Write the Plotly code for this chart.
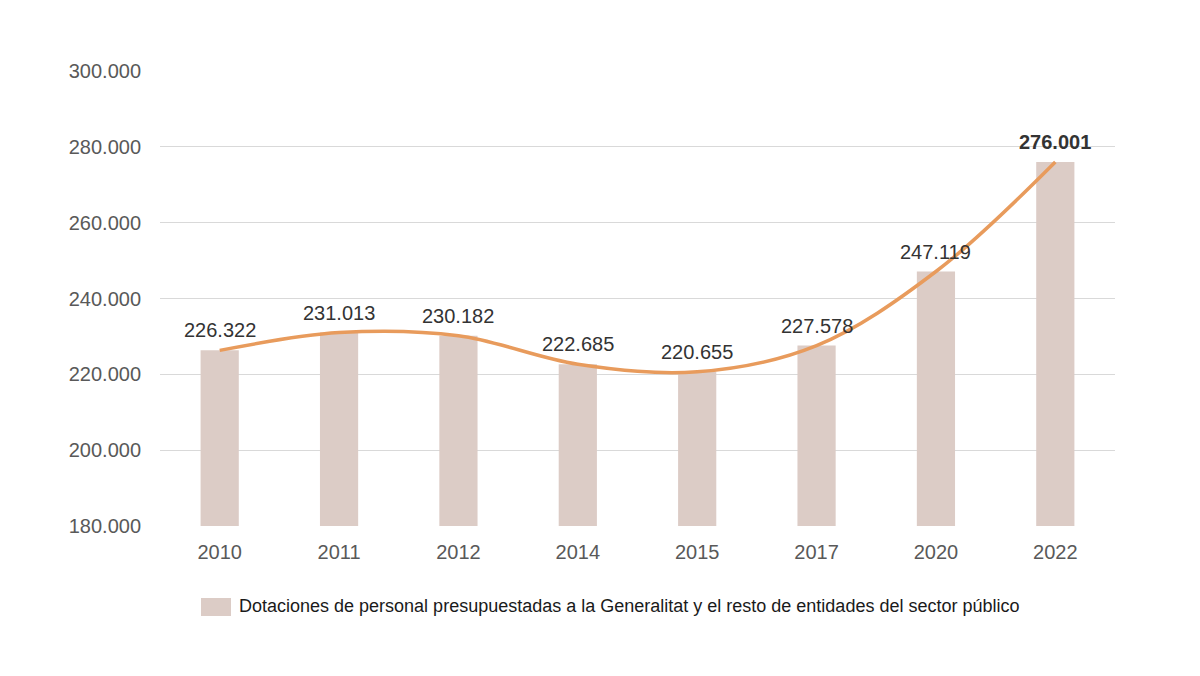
import plotly.graph_objects as go

years = ["2010", "2011", "2012", "2014", "2015", "2017", "2020", "2022"]
values = [226322, 231013, 230182, 222685, 220655, 227578, 247119, 276001]
labels = ["226.322", "231.013", "230.182", "222.685", "220.655", "227.578", "247.119", "276.001"]
series_name = "Dotaciones de personal presupuestadas a la Generalitat y el resto de entidades del sector público"
y_ticks = [180000, 200000, 220000, 240000, 260000, 280000, 300000]
y_ticktext = ["180.000", "200.000", "220.000", "240.000", "260.000", "280.000", "300.000"]

FONT = "Liberation Sans, Arial, Helvetica, sans-serif"
BAR_COLOR = "#DCCCC6"
LINE_COLOR = "#E89B5C"

OFF = 8  # page body margin
W, H = 1200, 676
ML, MR, MT, MB = 160 - OFF, 85 + OFF, 71 - OFF, 150 + OFF
plot_w = W - ML - MR
plot_h = H - MT - MB


def px_x(x):
    return (x - OFF - ML) / plot_w


def px_y(y):
    return (H - MB - (y - OFF)) / plot_h


idx = list(range(len(years)))

fig = go.Figure()
fig.add_trace(go.Bar(
    x=idx, y=values, name=series_name,
    marker=dict(color=BAR_COLOR, line=dict(width=0)),
    width=0.32, showlegend=False,
))
fig.add_trace(go.Scatter(
    x=idx, y=values, mode="lines",
    line=dict(color=LINE_COLOR, width=3.5, shape="spline", smoothing=1.0),
    showlegend=False, hoverinfo="skip",
))

annotations = []
for i, (v, lab) in enumerate(zip(values, labels)):
    last = i == len(years) - 1
    annotations.append(dict(
        x=i, y=v, xref="x", yref="y", text=("<b>%s</b>" % lab) if last else lab,
        showarrow=False, yanchor="bottom", yshift=7,
        font=dict(family=FONT, size=20, color="#333333"),
    ))

# legend (swatch + text)
annotations.append(dict(
    x=px_x(237), y=px_y(606), xref="paper", yref="paper",
    text=series_name, showarrow=False, xanchor="left", yanchor="middle",
    font=dict(family=FONT, size=18, color="#1a1a1a"),
))

fig.update_layout(
    width=W, height=H,
    margin=dict(l=ML, r=MR, t=MT, b=MB),
    paper_bgcolor="white", plot_bgcolor="white",
    font=dict(family=FONT, size=20, color="#595959"),
    xaxis=dict(
        type="linear", range=[-0.5, len(years) - 0.5],
        tickvals=idx, ticktext=years,
        showgrid=False, zeroline=False, showline=False,
        ticks="", tickfont=dict(family=FONT, size=20, color="#595959"),
        ticklabelstandoff=12,
    ),
    yaxis=dict(
        range=[180000, 300000], tickvals=y_ticks, ticktext=y_ticktext,
        showgrid=True, gridcolor="#D9D9D9", gridwidth=1, zeroline=False,
        showline=False, ticks="", ticklabelstandoff=18,
        tickfont=dict(family=FONT, size=20, color="#595959"),
    ),
    showlegend=False,
    annotations=annotations,
)

fig.add_shape(
    type="rect", xref="paper", yref="paper",
    x0=px_x(201), x1=px_x(231),
    y0=px_y(616), y1=px_y(598),
    fillcolor=BAR_COLOR, line=dict(width=0),
)

fig.write_html("out.html")
